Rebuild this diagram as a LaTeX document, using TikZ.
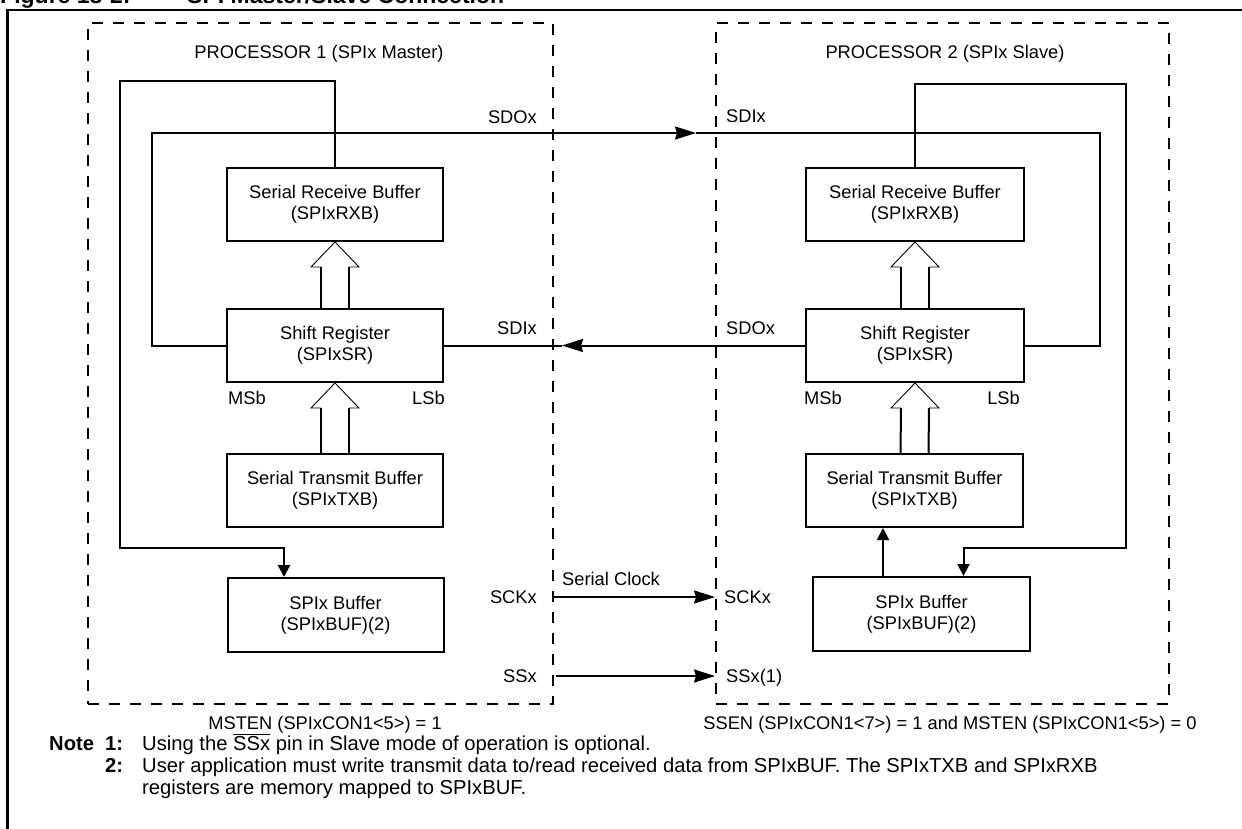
\documentclass[tikz,border=0pt]{standalone}
\usepackage{fontspec}
\setmainfont{Liberation Sans}
\usetikzlibrary{arrows.meta,calc}
\newcommand\lblfont{\fontsize{18.3pt}{20.7pt}\selectfont}
\newcommand\notefont{\fontsize{20.2pt}{22pt}\selectfont}
\newcommand\hollowup[2]{%
  \draw[line width=2pt] ($(#1)+(-14,0)$) -- ($(#2)+(-14,25)$) ($(#1)+(14,0)$) -- ($(#2)+(14,25)$);
  \draw[line width=0.9pt] ($(#2)+(-14,25)$) -- ($(#2)+(-24,25)$) -- (#2) -- ($(#2)+(24,25)$) -- ($(#2)+(14,25)$);}
\begin{document}
\begin{tikzpicture}[x=1pt,y=-1pt,
  blk/.style={draw,line width=2pt,minimum width=216pt,minimum height=73pt,inner sep=0pt,align=center,font=\lblfont},
  lab/.style={inner sep=0pt,font=\lblfont},
  notelab/.style={inner sep=0pt,font=\notefont},
  boldlab/.style={inner sep=0pt,font=\notefont\bfseries},
  procbox/.style={draw,line width=2pt,dash pattern=on 11pt off 10pt,minimum width=465pt,minimum height=681pt,inner sep=0pt},
  wire/.style={line width=2pt},
  bigarr/.style={wire,-{Stealth[length=21pt,width=13pt,inset=2pt]}},
  smarr/.style={wire,-{Triangle[length=12pt,width=12pt]}},
]
\useasboundingbox (0,0) rectangle (1242,828);
\clip (0,0) rectangle (1242,828);

% title (cut off at the top edge, as in the reference)
\node[inner sep=0pt,anchor=base west,font=\fontsize{23pt}{25pt}\selectfont\bfseries] (ttl1) at (0,3) {Figure 18-2:};
\node[inner sep=0pt,anchor=base west,font=\fontsize{23pt}{25pt}\selectfont\bfseries] (ttl2) at (187,3) {SPI Master/Slave Connection};

% outer frame
\draw[line width=2.5pt] (7.5,830) -- (7.5,10) -- (1245,10);

% processor boxes
\node[procbox] (p1) at (320.5,363.5) {};
\node[procbox,minimum width=453pt] (p2) at (942.5,363.5) {};
\node[lab,anchor=base] (p1t) at (319,58) {PROCESSOR 1 (SPIx Master)};
\node[lab,anchor=base] (p2t) at (945,58) {PROCESSOR 2 (SPIx Slave)};

% blocks
\node[blk] (lrx) at (335,204.5) {Serial Receive Buffer\\(SPIxRXB)};
\node[blk] (lsr) at (335,345.5) {Shift Register\\(SPIxSR)};
\node[blk] (ltx) at (335,490.5) {Serial Transmit Buffer\\(SPIxTXB)};
\node[blk,minimum height=74pt] (lbuf) at (335.5,615) {SPIx Buffer\\(SPIxBUF)(2)};
\node[blk,minimum width=218pt] (rrx) at (915,204.5) {Serial Receive Buffer\\(SPIxRXB)};
\node[blk,minimum width=218pt] (rsr) at (915,345.5) {Shift Register\\(SPIxSR)};
\node[blk,minimum width=217pt] (rtx) at (914.5,490.5) {Serial Transmit Buffer\\(SPIxTXB)};
\node[blk,minimum width=217pt,minimum height=74pt] (rbuf) at (921.5,614) {SPIx Buffer\\(SPIxBUF)(2)};

% pin labels
\node[lab,anchor=east] (lsdo) at (537,117) {SDOx};
\node[lab,anchor=west] (rsdi) at (726,116) {SDIx};
\node[lab,anchor=east] (lsdi) at (537,328) {SDIx};
\node[lab,anchor=west] (rsdo) at (726,328) {SDOx};
\node[lab,anchor=base west] (lmsb) at (228,404) {MSb};
\node[lab,anchor=base east] (llsb) at (445,404) {LSb};
\node[lab,anchor=base west] (rmsb) at (804,404) {MSb};
\node[lab,anchor=base east] (rlsb) at (1020,404) {LSb};
\node[lab,anchor=east] (lsck) at (537,597) {SCKx};
\node[lab,anchor=west] (rsck) at (724,597) {SCKx};
\node[lab,anchor=west] (sclk) at (562,579) {Serial Clock};
\node[lab,anchor=east] (lss) at (537,676) {SSx};
\node[lab,anchor=base west] (rss) at (726,682.5) {SSx(1)};

% hollow data-path arrows
\hollowup{ltx.north}{lsr.south}
\hollowup{lsr.north}{lrx.south}
\hollowup{rtx.north}{rsr.south}
\hollowup{rsr.north}{rrx.south}

% master loop RXB -> SPIxBUF
\coordinate (lc1) at (120,81);
\coordinate (lc2) at (120,548);
\draw[smarr] (lrx.north) |- (lc1) -- (lc2) -| ([xshift=-51.5pt]lbuf.north);

% SDO master -> SDI slave
\coordinate (lc3) at (152,133);
\coordinate (sdotip) at (696,133);
\coordinate (rc3) at (1100,133);
\draw[bigarr] (lsr.west) -| (lc3) -- (sdotip);
\draw[wire] (sdotip) -- (rc3) |- (rsr.east);

% SDO slave -> SDI master
\coordinate (sditip) at (562,345.5);
\draw[bigarr] (rsr.west) -- (sditip);
\draw[wire] (sditip) -- (lsr.east);

% slave loop RXB -> SPIxBUF
\coordinate (rc1) at (1126,84);
\coordinate (rc2) at (1126,548);
\draw[smarr] (rrx.north) |- (rc1) -- (rc2) -| ([xshift=42pt]rbuf.north);
\draw[smarr] ([xshift=-38.5pt]rbuf.north) -- ([xshift=-38.5pt]rbuf.north |- rtx.south);

% clock and slave select
\draw[bigarr] (p1.east |- lsck.east) -- (p2.west |- lsck.east);
\draw[bigarr] ([xshift=2pt]p1.east |- lss.east) -- (p2.west |- lss.east);

% mode notes
\node[lab,anchor=base] (mst) at (325,729.5) {MSTEN (SPIxCON1<5>) = 1};
\node[lab,anchor=base] (ssen) at (950,729.5) {SSEN (SPIxCON1<7>) = 1 and MSTEN (SPIxCON1<5>) = 0};

\node[boldlab,anchor=base west] (n0) at (49,750) {Note};
\node[boldlab,anchor=base west] (n1) at (105,750) {1:};
\node[notelab,anchor=base west] (n1t) at (142,750) {Using the $\overline{\hbox{SSx}}$ pin in Slave mode of operation is optional.};
\node[boldlab,anchor=base west] (n2) at (105,772) {2:};
\node[notelab,anchor=base west] (n2t) at (142,772) {User application must write transmit data to/read received data from SPIxBUF. The SPIxTXB and SPIxRXB};
\node[notelab,anchor=base west] (n2u) at (142,794) {registers are memory mapped to SPIxBUF.};
\end{tikzpicture}
\end{document}
